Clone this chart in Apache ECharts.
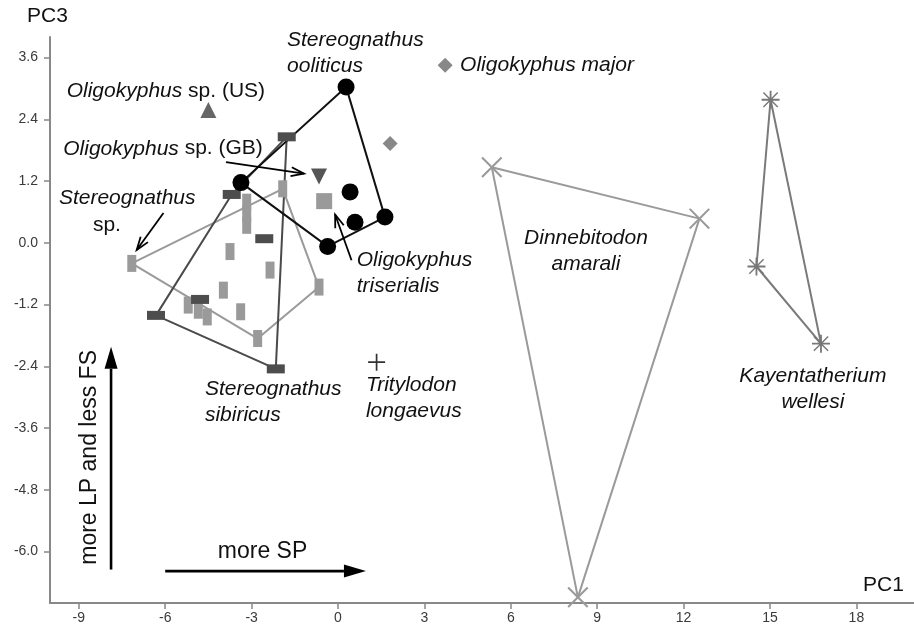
<!DOCTYPE html>
<html><head><meta charset="utf-8">
<script src="https://cdn.jsdelivr.net/npm/echarts@6/dist/echarts.min.js"></script>
<style>html,body{margin:0;padding:0;background:#fff}#c{width:914px;height:626px}</style>
</head><body><div id="c"></div>
<script>
// ---- tick labels ----
const xTicks = [-9, -6, -3, 0, 3, 6, 9, 12, 15, 18];
const yTicks = [-6.0, -4.8, -3.6, -2.4, -1.2, 0.0, 1.2, 2.4, 3.6];

// ---- data (PC1, PC3) ----
const ooliticusHull = [[-3.37, 1.17], [0.28, 3.03], [1.63, 0.50], [-0.36, -0.07]];
const ooliticusInner = [[0.42, 0.99], [0.59, 0.40]];
const sibiricusHull = [[-1.78, 2.06], [-3.69, 0.94], [-6.32, -1.41], [-2.16, -2.45]];
const sibiricusInner = [[-2.56, 0.08], [-4.79, -1.10]];
const stereoSpHull = [[-7.16, -0.40], [-1.92, 1.05], [-0.66, -0.86], [-2.79, -1.86]];
const stereoSpInner = [[-3.17, 0.79], [-3.17, 0.57], [-3.17, 0.34], [-3.75, -0.17], [-2.36, -0.53],
  [-3.98, -0.92], [-3.38, -1.34], [-5.20, -1.21], [-4.85, -1.31], [-4.54, -1.44]];
const dinnebitodonHull = [[5.34, 1.47], [12.55, 0.47], [8.33, -6.89]];
const kayentaHull = [[15.02, 2.78], [14.53, -0.46], [16.77, -1.96]];
const oligoUS = [[-4.50, 2.58]];
const oligoGB = [[-0.66, 1.29]];
const oligoTriserialis = [[-0.48, 0.81]];
const oligoMajor = [[3.72, 3.45], [1.81, 1.93]];
const tritylodon = [[1.34, -2.32]];

// ---- annotations ----
const taxonLabels = [
  { x: -1.77, y: 3.68, text: '{i|Stereognathus}\n{i|ooliticus}', align: 'left' },
  { x: 4.24, y: 3.45, text: '{i|Oligokyphus major}', align: 'left' },
  { x: -9.42, y: 2.95, text: '{i|Oligokyphus} sp. (US)', align: 'left' },
  { x: -9.54, y: 1.83, text: '{i|Oligokyphus} sp. (GB)', align: 'left' },
  { x: -9.69, y: 0.865, text: '{i|Stereognathus}', align: 'left' },
  { x: -8.51, y: 0.34, text: 'sp.', align: 'left' },
  { x: 0.65, y: -0.58, text: '{i|Oligokyphus}\n{i|triserialis}', align: 'left' },
  { x: -4.62, y: -3.10, text: '{i|Stereognathus}\n{i|sibiricus}', align: 'left' },
  { x: 0.97, y: -3.01, text: '{i|Tritylodon}\n{i|longaevus}', align: 'left' },
  { x: 8.61, y: -0.17, text: '{i|Dinnebitodon}\n{i|amarali}', align: 'center' },
  { x: 16.49, y: -2.85, text: '{i|Kayentatherium}\n{i|wellesi}', align: 'center' }
];
const axisNotes = [
  { x: -2.62, y: -6.01, text: 'more SP', rotate: 0 },
  { x: -8.63, y: -4.17, text: 'more LP and less FS', rotate: Math.PI / 2 }
];
const pointerArrows = [
  [-6.06, 0.58, -6.99, -0.14],
  [-3.89, 1.57, -1.18, 1.345],
  [0.47, -0.34, -0.10, 0.55]
];
const axisArrows = [
  [-6.0, -6.38, 0.97, -6.38],
  [-7.88, -6.35, -7.88, -2.02]
];

const F = '"Liberation Sans", Arial, Helvetica, sans-serif';
const XPATH = 'path://M0,1.4L1.4,0L10,8.6L18.6,0L20,1.4L11.4,10L20,18.6L18.6,20L10,11.4L1.4,20L0,18.6L8.6,10Z';
const PLUS = 'path://M9,0H11V20H9Z M0,9H20V11H0Z';
const STAR = 'path://M9,0H11V20H9Z M0,9H20V11H0Z M1.5,2.6L2.6,1.5L10,8.9L17.4,1.5L18.5,2.6L11.1,10L18.5,17.4L17.4,18.5L10,11.1L2.6,18.5L1.5,17.4L8.9,10Z';

function closed(h) { return h.concat([h[0]]); }
function hullSeries(h, color) {
  return { type: 'line', data: closed(h), symbol: 'none', silent: true, z: 1,
    lineStyle: { color: color, width: 2 } };
}
function scatter(d, symbol, size, color, extra) {
  return Object.assign({ type: 'scatter', data: d, symbol: symbol, symbolSize: size, silent: true, z: 3,
    itemStyle: { color: color, opacity: 1 } }, extra || {});
}

const chart = echarts.init(document.getElementById('c'), null, { renderer: 'canvas' });
chart.setOption({
  animation: false,
  backgroundColor: '#fff',
  grid: { left: 50, right: 0, top: 37, bottom: 23, containLabel: false },
  xAxis: {
    type: 'value', min: -10, max: 20, splitLine: { show: false },
    axisLine: { onZero: false, lineStyle: { color: '#888', width: 2 } },
    axisTick: { customValues: xTicks, length: 6, lineStyle: { color: '#888', width: 1.5 } },
    axisLabel: { customValues: xTicks, margin: 8, color: '#3a3a3a', fontSize: 14, fontFamily: F }
  },
  yAxis: {
    type: 'value', min: -7, max: 4, splitLine: { show: false },
    axisLine: { onZero: false, lineStyle: { color: '#888', width: 2 } },
    axisTick: { customValues: yTicks, length: 6, lineStyle: { color: '#888', width: 1.5 } },
    axisLabel: { customValues: yTicks, margin: 12, color: '#3a3a3a', fontSize: 14, fontFamily: F,
      formatter: v => Number(v).toFixed(1) }
  },
  graphic: [
    { type: 'text', left: 27, top: 6, style: { text: 'PC3', fontSize: 21, fontFamily: F, fill: '#111' } },
    { type: 'text', left: 863, top: 575, style: { text: 'PC1', fontSize: 21, fontFamily: F, fill: '#111' } }
  ],
  series: [
    hullSeries(stereoSpHull, '#9a9a9a'),
    hullSeries(sibiricusHull, '#4a4a4a'),
    hullSeries(ooliticusHull, '#111'),
    hullSeries(dinnebitodonHull, '#9a9a9a'),
    hullSeries(kayentaHull, '#7a7a7a'),
    scatter(stereoSpHull.concat(stereoSpInner), 'rect', [9, 17], '#9a9a9a'),
    scatter(sibiricusHull.concat(sibiricusInner), 'rect', [18, 9], '#4d4d4d'),
    scatter(ooliticusHull.concat(ooliticusInner), 'circle', 17, '#000'),
    scatter(oligoUS, 'triangle', 16, '#666'),
    scatter(oligoGB, 'triangle', 16, '#555', { symbolRotate: 180 }),
    scatter(oligoTriserialis, 'rect', 16, '#9a9a9a'),
    scatter(oligoMajor, 'diamond', 15, '#888'),
    scatter(tritylodon, PLUS, 17, '#333'),
    scatter(dinnebitodonHull, XPATH, 21, '#9a9a9a'),
    scatter(kayentaHull, STAR, 18, '#777'),
    {
      type: 'custom', silent: true, z: 5, data: taxonLabels.map(l => [l.x, l.y]),
      renderItem: function (params, api) {
        const l = taxonLabels[params.dataIndex];
        const p = api.coord([l.x, l.y]);
        const base = { fontSize: 21, fontFamily: F, fill: '#111', lineHeight: 26 };
        return { type: 'text', x: p[0], y: p[1], style: Object.assign({}, base, {
          text: l.text, align: l.align, verticalAlign: 'middle',
          rich: { i: Object.assign({}, base, { fontStyle: 'italic' }) }
        }) };
      }
    },
    {
      type: 'custom', silent: true, z: 5, data: axisNotes.map(l => [l.x, l.y]),
      renderItem: function (params, api) {
        const l = axisNotes[params.dataIndex];
        const p = api.coord([l.x, l.y]);
        return { type: 'text', x: p[0], y: p[1], rotation: l.rotate, style: {
          text: l.text, align: 'center', verticalAlign: 'middle', fontSize: 23, fontFamily: F, fill: '#111' } };
      }
    },
    {
      type: 'custom', silent: true, z: 4, data: pointerArrows,
      renderItem: function (params, api) {
        const a = api.coord([api.value(0), api.value(1)]);
        const b = api.coord([api.value(2), api.value(3)]);
        const ang = Math.atan2(b[1] - a[1], b[0] - a[0]);
        const L = 13, W = 4.5;
        const bx = b[0] - L * Math.cos(ang), by = b[1] - L * Math.sin(ang);
        const nx = -Math.sin(ang) * W, ny = Math.cos(ang) * W;
        return { type: 'group', children: [
          { type: 'line', shape: { x1: a[0], y1: a[1], x2: b[0], y2: b[1] }, style: { stroke: '#000', lineWidth: 1.8 } },
          { type: 'polyline', shape: { points: [[bx + nx, by + ny], b, [bx - nx, by - ny]] }, style: { stroke: '#000', lineWidth: 1.8, fill: null } }
        ] };
      }
    },
    {
      type: 'custom', silent: true, z: 4, data: axisArrows,
      renderItem: function (params, api) {
        const a = api.coord([api.value(0), api.value(1)]);
        const b = api.coord([api.value(2), api.value(3)]);
        const ang = Math.atan2(b[1] - a[1], b[0] - a[0]);
        const L = 22, W = 6.5;
        const bx = b[0] - L * Math.cos(ang), by = b[1] - L * Math.sin(ang);
        const nx = -Math.sin(ang) * W, ny = Math.cos(ang) * W;
        return { type: 'group', children: [
          { type: 'line', shape: { x1: a[0], y1: a[1], x2: bx, y2: by }, style: { stroke: '#000', lineWidth: 2.6 } },
          { type: 'polygon', shape: { points: [[bx + nx, by + ny], b, [bx - nx, by - ny]] }, style: { fill: '#000' } }
        ] };
      }
    }
  ]
});
</script>
</body></html>
